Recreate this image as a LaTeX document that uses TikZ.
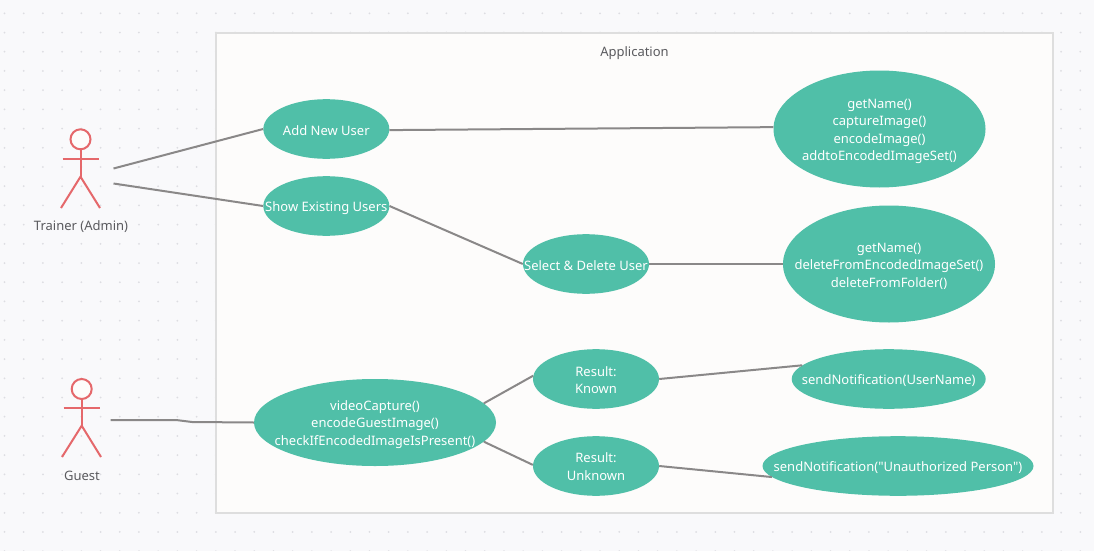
\documentclass[tikz,border=0pt]{standalone}
\usepackage{fontspec}
\usepackage{xcolor}
\newfontfamily\chartfont{Noto Sans}
\newcommand{\topgap}[1]{\rule{0pt}{#1}}
\usetikzlibrary{shapes.geometric}
\definecolor{pageBack}{HTML}{F9F9FB}
\definecolor{gridDot}{HTML}{DDDDE2}
\definecolor{frameFill}{HTML}{FDFCFB}
\definecolor{frameLine}{HTML}{DEDEDE}
\definecolor{caseFill}{HTML}{50BFA8}
\definecolor{linkLine}{HTML}{8A8888}
\definecolor{actorLine}{HTML}{E5686B}
\definecolor{labelText}{HTML}{5A5A5E}
\tikzset{
UseCase/.style={
 ellipse,
 fill=caseFill,
 text=white,
 inner sep=-30pt,
 align=center,
 font=\chartfont\fontsize{13}{17.4}\selectfont,
 minimum width=#1
 },
SmallCase/.style={
 UseCase=126pt,
 minimum height=59.6pt
 },
BigCase/.style={
 UseCase=#1,
 minimum height=117pt
 },
FlatCase/.style={
 UseCase=#1,
 minimum height=59.6pt
 },
Link/.style={
 draw=linkLine,
 line width=2pt
 },
Actor/.style={
 draw=actorLine,
 line width=2pt
 },
Caption/.style={
 text=labelText,
 inner sep=0pt,
 font=\chartfont\fontsize{13}{15}\selectfont
 }
}
\begin{document}
\begin{tikzpicture}[x=1pt,y=-1pt]
\useasboundingbox (0,0) rectangle (1094,551);
\fill[pageBack] (0,0) rectangle (1094,551);
% background dots
\foreach \i in {0,...,56}{
 \foreach \j in {0,...,28}{
  \fill[gridDot] (4.5+19.21*\i,13.3+19.21*\j) circle (1pt);
 }
}
% application frame
\node[draw=frameLine,fill=frameFill,line width=2pt,minimum width=837pt,minimum height=480pt,inner sep=0pt] (app) at (634.5,273) {};
\node[Caption] (appLabel) at (634.5,53.5) {Application};
% trainer
\draw[Actor,fill=frameFill] (80.5,139.3) circle (10pt);
\draw[Actor] (80.5,149.3) -- (80.5,176.7);
\draw[Actor] (62.5,159) -- (99,159);
\draw[Actor] (61,208) -- (80.5,176.7) -- (100,208);
\node[Caption] (trainerLabel) at (81,227) {Trainer (Admin)};
% guest
\draw[Actor,fill=frameFill] (81.7,389) circle (10pt);
\draw[Actor] (81.7,399) -- (81.7,425.7);
\draw[Actor] (63.5,408) -- (100,408);
\draw[Actor] (62,457) -- (81.7,425.7) -- (101,457);
\node[Caption] (guestLabel) at (82,475.5) {Guest};
% use cases
\node[SmallCase] (addUser) at (326.3,129) {\topgap{14pt}Add New User};
\node[SmallCase] (showUsers) at (326.3,206) {\topgap{14pt}Show Existing Users};
\node[SmallCase] (selectUser) at (586,264) {\topgap{14pt}Select \& Delete User};
\node[SmallCase] (known) at (596,379) {\topgap{12pt}Result:\\Known};
\node[SmallCase] (unknown) at (596,466) {\topgap{11pt}Result:\\Unknown};
\node[BigCase=212pt] (addSteps) at (879.5,129) {\topgap{14pt}getName()\\captureImage()\\encodeImage()\\addtoEncodedImageSet()};
\node[BigCase=212pt] (deleteSteps) at (889,264) {\topgap{13.5pt}getName()\\deleteFromEncodedImageSet()\\deleteFromFolder()};
\node[UseCase=242pt,minimum height=87pt] (video) at (375,422.5) {\topgap{13.5pt}videoCapture()\\encodeGuestImage()\\checkIfEncodedImageIsPresent()};
\node[FlatCase=194pt] (notifyKnown) at (888.7,379) {\topgap{14pt}sendNotification(UserName)};
\node[FlatCase=271pt] (notifyUnknown) at (898,466) {\topgap{14pt}sendNotification("Unauthorized Person")};
% free ends next to the actors
\coordinate (trainerA) at (113.5,168.5);
\coordinate (trainerB) at (113.5,183.5);
\coordinate (guestA) at (110.5,420);
\coordinate (guestB) at (176,420);
\coordinate (guestC) at (192,422);
% links
\draw[Link] (trainerA) -- (addUser.west);
\draw[Link] (trainerB) -- (showUsers.west);
\draw[Link] (addUser.-1) -- (addSteps.179.5);
\draw[Link] (showUsers.east) -- (selectUser.west);
\draw[Link] (selectUser.east) -- (deleteSteps.west);
\draw[Link] (guestA) -- (guestB) -- (guestC) -- (video.west);
\draw[Link] (video.10) -- (known.177);
\draw[Link] (video.-10) -- (unknown.179);
\draw[Link] (known.east) -- (notifyKnown.171.8);
\draw[Link] (unknown.east) -- (notifyUnknown.185.4);
\end{tikzpicture}
\end{document}
